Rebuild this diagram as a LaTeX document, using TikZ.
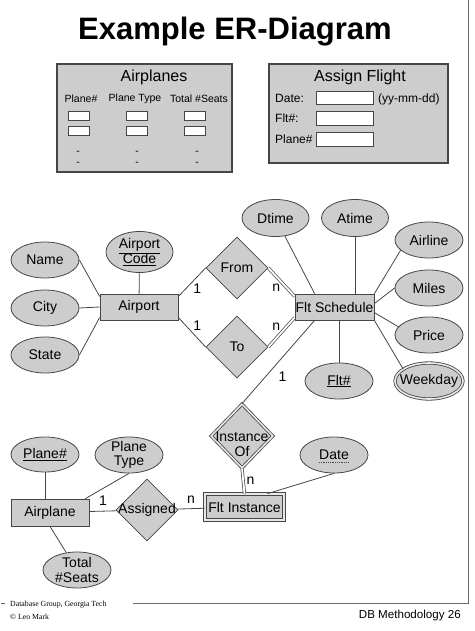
\documentclass[tikz,border=0pt]{standalone}
\usepackage{fontspec}
\setmainfont{Liberation Sans}
\newfontfamily\footserif{Liberation Serif}
\usetikzlibrary{positioning, shapes.geometric}

\definecolor{boxgray}{RGB}{205,205,205}
\definecolor{linegray}{RGB}{70,70,70}
\definecolor{framegray}{RGB}{105,105,105}

\begin{document}
\begin{tikzpicture}[
    x=1pt, y=-1pt,
    every node/.style={font=\fontsize{14}{14.5}\selectfont},
    entity/.style={draw=linegray, line width=0.8pt, fill=boxgray, minimum width=78pt, minimum height=26pt, inner sep=0pt},
    weakentity/.style={entity, double=boxgray!45, double distance=1.6pt},
    attr/.style={draw=linegray, line width=0.8pt, fill=boxgray, ellipse, minimum width=68pt, minimum height=36pt, inner sep=-6pt, align=center},
    multiattr/.style={attr, double=boxgray!45, double distance=1.6pt},
    rel/.style={draw=linegray, line width=0.8pt, fill=boxgray, diamond, minimum width=62pt, minimum height=62pt, inner sep=-8pt, align=center},
    weakrel/.style={rel, double=boxgray!45, double distance=1.6pt},
    link/.style={draw=linegray, line width=0.8pt},
    total/.style={link, line width=0.7pt, double=white, double distance=1.8pt},
    card/.style={inner sep=1pt},
    panel/.style={draw=linegray, line width=1.2pt, fill=boxgray, inner sep=0pt},
    field/.style={draw=linegray, line width=0.8pt, fill=white, inner sep=0pt},
    formhead/.style={font=\fontsize{16}{16}\selectfont, inner sep=0pt},
    colhead/.style={font=\fontsize{10.5}{11}\selectfont, inner sep=0pt},
    formtext/.style={font=\fontsize{12}{12}\selectfont, inner sep=0pt, anchor=base west},
    frame/.style={draw=framegray, line width=1pt}
]
\useasboundingbox (0,0) rectangle (474,631);

% title and slide frame
\node[font=\bfseries\fontsize{31}{31}\selectfont, anchor=base] (title) at (235,40) {Example ER-Diagram};
\coordinate (frametop) at (468,0);
\coordinate (framecorner) at (468,603);
\coordinate (frameleft) at (133,603);
\draw[frame] (frametop) -- (framecorner) -- (frameleft);

% form: Airplanes
\node[panel, minimum width=175pt, minimum height=108pt] (airplanes) at (144.5,118) {};
\node[formhead] (airplaneshead) at (154,77) {Airplanes};
\node[colhead] (colplane) at (81,99) {Plane\#};
\node[colhead] (coltype) at (135,99) {Plane Type};
\node[colhead] (colseats) at (199,99) {Total \#Seats};
\node[field, minimum width=21pt, minimum height=9pt] (planeA) at (78.5,115.5) {};
\node[field, minimum width=21pt, minimum height=9pt] (planeB) at (78.5,130.5) {};
\node[field, minimum width=21pt, minimum height=9pt] (typeA) at (137,115.5) {};
\node[field, minimum width=21pt, minimum height=9pt] (typeB) at (137,130.5) {};
\node[field, minimum width=21pt, minimum height=9pt] (seatsA) at (194.5,115.5) {};
\node[field, minimum width=21pt, minimum height=9pt] (seatsB) at (194.5,130.5) {};
\node[colhead] (planedotA) at (78,153) {-};
\node[colhead] (planedotB) at (78,164) {-};
\node[colhead] (typedotA) at (137,153) {-};
\node[colhead] (typedotB) at (137,164) {-};
\node[colhead] (seatsdotA) at (197,153) {-};
\node[colhead] (seatsdotB) at (197,164) {-};

% form: Assign Flight
\node[panel, minimum width=179pt, minimum height=99pt] (assignflight) at (358.5,113.5) {};
\node[formhead] (assignhead) at (360,77) {Assign Flight};
\node[formtext] (datelbl) at (275,102.5) {Date:};
\node[field, minimum width=57pt, minimum height=13pt] (datefield) at (344.5,97.5) {};
\node[formtext] (datefmt) at (378,102.5) {(yy-mm-dd)};
\node[formtext] (fltlbl) at (275,122.5) {Flt\#:};
\node[field, minimum width=57pt, minimum height=14pt] (fltfield) at (344.5,118) {};
\node[formtext] (planelbl) at (275,143.5) {Plane\#};
\node[field, minimum width=57pt, minimum height=14pt] (planefield) at (344.5,139) {};

% ER diagram
\node[entity] (airport) at (139,307) {Airport};
\node[attr, minimum width=67pt, minimum height=41pt] (apcode) at (139.5,252) {\underline{Airport}\\[-1pt]\underline{Code}};
\node[attr] (name) at (45,260) {Name};
\node[attr] (city) at (45,308) {City};
\node[attr] (state) at (45,355) {State};
\node[rel] (from) at (237,268) {From};
\node[rel] (to) at (237,347) {To};
\node[entity, minimum width=79pt] (fltsched) at (334.5,307) {Flt Schedule};
\node[attr, minimum width=67pt, minimum height=37pt] (dtime) at (275.5,218) {Dtime};
\node[attr, minimum width=67pt, minimum height=37pt] (atime) at (355,218) {Atime};
\node[attr] (airline) at (429,240) {Airline};
\node[attr] (miles) at (429,288) {Miles};
\node[attr] (price) at (429,335) {Price};
\node[multiattr] (weekday) at (429,381) {Weekday};
\node[attr] (fltno) at (339,381) {\underline{Flt\#}};
\node[weakrel, minimum height=64pt, label={[yshift=-8pt, align=center]center:{Instance\\Of}}] (instof) at (242,436) {};
\node[weakentity, minimum width=79pt] (fltinst) at (244.5,507) {Flt Instance};
\node[attr] (date) at (334,455) {Date};
\node[entity, minimum height=27pt] (airplane) at (50,512.5) {Airplane};
\node[attr, minimum height=35pt] (planeno) at (45,454.5) {\underline{Plane\#}};
\node[attr] (planetype) at (129,455) {Plane\\Type};
\node[attr] (seats) at (77,570) {Total\\\#Seats};
\node[rel] (assigned) at (147,510) {Assigned};

\draw[link, densely dotted] ([xshift=-15pt, yshift=-2.5pt]date.base) -- ([xshift=15pt, yshift=-2.5pt]date.base);

\draw[link] (name.east) -- (airport.165);
\draw[link] (city.east) -- (airport.west);
\draw[link] (state.east) -- (airport.195);
\draw[link] (apcode) -- (airport);
\draw[link] (airport.15) -- node[card, midway, below right] {1} (from.west);
\draw[link] (airport.-15) -- node[card, midway, above right] {1} (to.west);
\draw[total] (from.east) -- node[card, midway, below left] {n} (fltsched.165);
\draw[total] (to.east) -- node[card, midway, above left] {n} (fltsched.195);
\draw[link] (dtime) -- ([xshift=20pt]fltsched.north west);
\draw[link] (atime) -- (atime |- fltsched.north);
\draw[link] (fltsched.north east) -- (airline.200);
\draw[link] (fltsched.5) -- (miles.west);
\draw[link] (fltsched.-8) -- (price.165);
\draw[link] (fltsched.south east) -- (weekday.155);
\draw[link] (fltno) -- (fltno |- fltsched.south);
\draw[link] ([xshift=20pt]fltsched.south west) -- node[card, pos=0.68, right=12pt] {1} (instof.north);
\draw[total] (instof.south) -- node[card, midway, right=2pt] {n} (fltinst.north);
\draw[link] (date.south) -- ([xshift=63pt]fltinst.north west);
\draw[link] (planeno) -- (planeno |- airplane.north);
\draw[link] (planetype.south) -- ([xshift=-4pt]airplane.north east);
\draw[link] (airplane.south) -- (seats);
\draw[link] (airplane) -- node[card, midway, above=4pt] {1} (assigned);
\draw[link] (assigned) -- node[card, midway, above=4pt] {n} (fltinst);

% footer
\coordinate (tickleft) at (1,603);
\coordinate (tickright) at (5,603);
\draw[frame, line width=0.6pt] (tickleft) -- (tickright);
\node[font=\footserif\fontsize{7.8}{8}\selectfont, anchor=base west, inner sep=0pt] (group) at (10,606) {Database Group, Georgia Tech};
\node[font=\footserif\fontsize{7.8}{8}\selectfont, anchor=base west, inner sep=0pt] (author) at (10,619) {\textcopyright{} Leo Mark};
\node[font=\fontsize{11.6}{12}\selectfont, anchor=base east, inner sep=0pt] (slideno) at (461,618) {DB Methodology 26};
\end{tikzpicture}
\end{document}
